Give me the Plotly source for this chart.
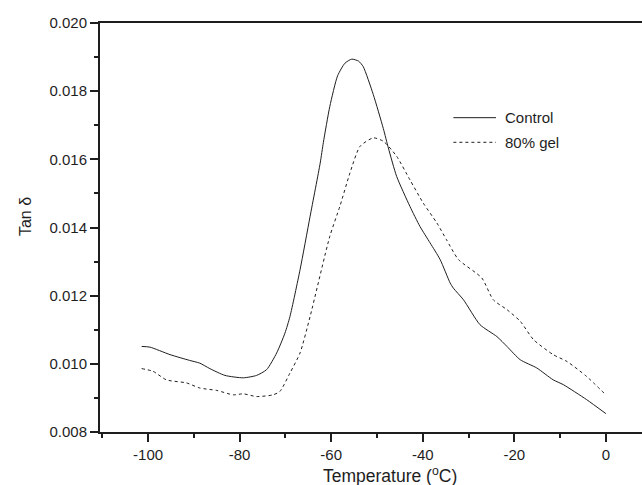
import plotly.graph_objects as go

# Control (solid)
ctrl_T = [-101.4, -99.6, -95.2, -90.9, -88.7, -86.5, -83.2, -79.2, -76.3, -74.1, -71.9, -70.1,
          -69.0, -66.8, -64.6, -62.4, -61.7, -60.3, -58.6, -57.0, -55.5, -54.0, -53.0, -50.8,
          -48.6, -47.5, -45.7, -42.8, -40.6, -38.4, -36.2, -34.0, -33.3, -31.1, -27.5, -23.8,
          -21.6, -18.7, -15.1, -11.5, -9.3, -4.2, 0.0]
ctrl_v = [0.01051, 0.01049, 0.01027, 0.01010, 0.01002, 0.00986, 0.00966, 0.00959, 0.00966, 0.00983,
          0.01032, 0.01090, 0.01139, 0.01276, 0.01433, 0.01589, 0.01650, 0.01755, 0.01845, 0.01882,
          0.01894, 0.01888, 0.01872, 0.01790, 0.01690, 0.01633, 0.01550, 0.01462, 0.01403, 0.01355,
          0.01306, 0.01237, 0.01222, 0.01188, 0.01115, 0.01080, 0.01051, 0.01012, 0.00988, 0.00953,
          0.00939, 0.00895, 0.00854]

# 80% gel (dotted)
gel_T = [-101.4, -98.9, -96.0, -91.6, -88.7, -85.0, -81.4, -79.2, -76.3, -72.7, -71.2, -69.0,
         -66.8, -64.6, -60.3, -58.1, -55.9, -53.7, -50.8, -48.6, -45.7, -42.8, -39.9, -36.9,
         -34.8, -32.2, -27.1, -24.6, -21.6, -18.7, -15.8, -11.5, -8.5, -4.2, 0.0]
gel_v = [0.00986, 0.00978, 0.00953, 0.00944, 0.00929, 0.00922, 0.00909, 0.00912, 0.00904, 0.00909,
         0.00919, 0.00973, 0.01032, 0.01139, 0.01374, 0.01462, 0.01560, 0.01638, 0.01663, 0.01653,
         0.01609, 0.01540, 0.01472, 0.01413, 0.01364, 0.01306, 0.01252, 0.01188, 0.01159, 0.01125,
         0.01071, 0.01027, 0.01007, 0.00963, 0.00909]

series_names = ["Control", "80% gel"]
x_ticks = [-100, -80, -60, -40, -20, 0]
y_ticks = [0.008, 0.010, 0.012, 0.014, 0.016, 0.018, 0.020]

FONT = "Liberation Sans, Arial, sans-serif"
INK = "#1e1e1e"

fig = go.Figure()
fig.add_trace(go.Scatter(x=ctrl_T, y=ctrl_v, mode="lines", name=series_names[0],
                         line=dict(color=INK, width=1, shape="spline", smoothing=0.6),
                         showlegend=False))
fig.add_trace(go.Scatter(x=gel_T, y=gel_v, mode="lines", name=series_names[1],
                         line=dict(color=INK, width=1, dash="dot", shape="spline", smoothing=0.6),
                         showlegend=False))

# Manual legend (paper coordinates)
legend_rows = [(0.7685, "solid"), (0.7083, "dot")]
shapes = []
annotations = []
for (yy, dash), name in zip(legend_rows, series_names):
    shapes.append(dict(type="line", xref="paper", yref="paper", x0=0.652, x1=0.7306, y0=yy, y1=yy,
                       line=dict(color=INK, width=1, dash=dash)))
    annotations.append(dict(text=name, xref="paper", yref="paper", x=0.743, y=yy,
                            xanchor="left", yanchor="middle", showarrow=False,
                            font=dict(size=15, color=INK)))

# Axis titles
annotations.append(dict(text="Temperature (<sup>o</sup>C)", xref="paper", yref="paper",
                        x=0.535, y=-0.074, xanchor="center", yanchor="top", showarrow=False,
                        font=dict(size=17.5, color=INK)))
annotations.append(dict(text="Tan δ", xref="paper", yref="paper", x=-0.1384, y=0.528,
                        xanchor="center", yanchor="middle", textangle=-90, showarrow=False,
                        font=dict(size=16, color=INK)))

fig.update_layout(
    width=642, height=485,
    margin=dict(l=100, r=0, t=23, b=53),
    paper_bgcolor="white", plot_bgcolor="white",
    font=dict(family=FONT, size=15, color=INK),
    showlegend=False,
    shapes=shapes,
    annotations=annotations,
    xaxis=dict(range=[-110.5, 7.9], tickmode="array", tickvals=x_ticks,
               ticktext=[str(t) for t in x_ticks], automargin=False,
               showline=True, linecolor=INK, linewidth=2, mirror=True,
               ticks="outside", ticklen=8, tickwidth=1.5, tickcolor=INK,
               minor=dict(dtick=10, tick0=0, ticks="outside", ticklen=4, tickwidth=1.5, tickcolor=INK),
               showgrid=False, zeroline=False, tickfont=dict(size=15)),
    yaxis=dict(range=[0.008, 0.020], tickmode="array", tickvals=y_ticks,
               ticktext=[f"{t:.3f}" for t in y_ticks], automargin=False,
               showline=True, linecolor=INK, linewidth=2, mirror=False,
               ticks="outside", ticklen=8, tickwidth=1.5, tickcolor=INK,
               minor=dict(dtick=0.001, tick0=0.008, ticks="outside", ticklen=4, tickwidth=1.5, tickcolor=INK),
               showgrid=False, zeroline=False, tickfont=dict(size=15)),
)

fig.write_html("out.html")
